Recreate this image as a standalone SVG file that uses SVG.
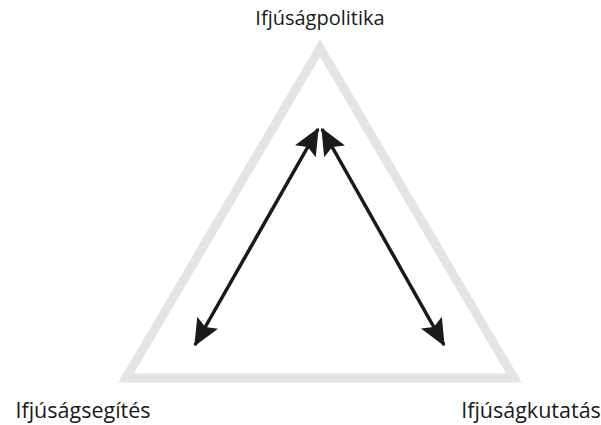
<svg xmlns="http://www.w3.org/2000/svg" width="601" height="425" viewBox="0 0 601 425">
<style>
.lbl{font-family:"Open Sans","Noto Sans",sans-serif;fill:#1a1a1a}
.tri{fill:none;stroke:#e3e4e4;stroke-width:9;stroke-linejoin:miter}
.arr{stroke:#1a1a1a;stroke-width:3.5;fill:none;marker-start:url(#ah);marker-end:url(#ah)}
</style>
<defs>
<marker id="ah" viewBox="0 0 10 10" refX="9.5" refY="5" markerWidth="27" markerHeight="24" orient="auto-start-reverse" markerUnits="userSpaceOnUse" preserveAspectRatio="none">
<path d="M0,0 L10,5 L0,10 L1.8,5 Z" fill="#1a1a1a"/>
</marker>
</defs>
<g id="triangle"><polygon class="tri" points="320,48 126,378 514,378"/></g>
<g id="connectors">
<line class="arr" x1="195" y1="345" x2="318" y2="129"/>
<line class="arr" x1="444" y1="345" x2="322" y2="129"/>
</g>
<g id="n1"><text class="lbl" x="320" y="25" font-size="20" text-anchor="middle">Ifjúságpolitika</text></g>
<g id="n2"><text class="lbl" x="83" y="418" font-size="21.5" text-anchor="middle">Ifjúságsegítés</text></g>
<g id="n3"><text class="lbl" x="531" y="418" font-size="21.5" text-anchor="middle">Ifjúságkutatás</text></g>
</svg>
